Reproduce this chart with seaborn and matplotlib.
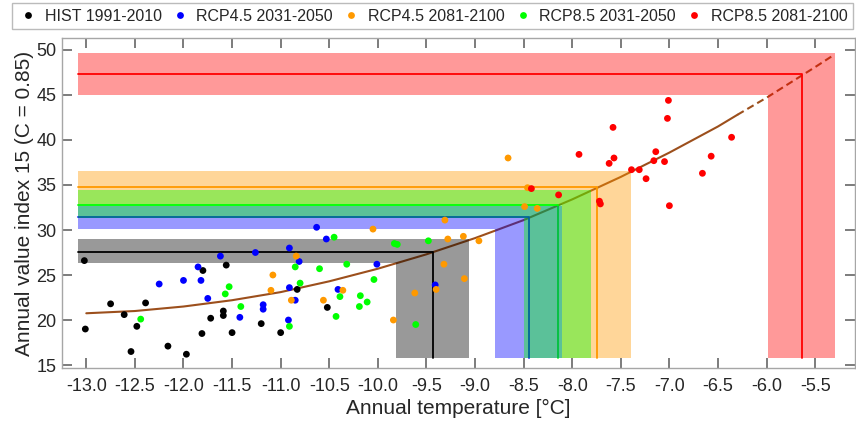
import pandas as pd
import seaborn as sns
import matplotlib.pyplot as plt

# scatter data: annual temperature [degC] and annual value index 15
hist_t = [-13.02, -13.01, -12.75, -12.61, -12.39, -12.48, -12.54, -12.16, -11.97, -11.80,
          -11.56, -11.72, -11.59, -11.59, -11.81, -11.50, -11.20, -10.83, -10.52, -11.00]
hist_v = [26.6, 19.0, 21.8, 20.6, 21.9, 19.3, 16.5, 17.1, 16.2, 25.5,
          26.1, 20.2, 21.0, 20.5, 18.5, 18.6, 19.6, 23.4, 21.4, 18.6]
rcp45a_t = [-12.25, -12.00, -11.82, -11.85, -11.75, -11.62, -11.26, -11.42, -11.18, -11.18,
            -10.63, -10.53, -10.91, -10.81, -10.91, -10.85, -10.92, -10.41, -10.01, -9.41]
rcp45a_v = [24.0, 24.4, 24.4, 25.9, 22.4, 27.1, 27.5, 20.3, 21.7, 21.2,
            30.3, 29.0, 28.0, 26.5, 23.6, 22.2, 20.0, 23.4, 26.2, 23.9]
rcp45b_t = [-10.84, -11.08, -11.10, -10.89, -10.56, -10.36, -10.05, -9.84, -9.31, -9.28,
            -9.32, -9.62, -9.40, -8.66, -8.46, -8.49, -8.36, -9.12, -8.96, -9.11]
rcp45b_v = [27.1, 25.0, 23.3, 22.2, 22.2, 23.3, 30.1, 20.0, 31.1, 29.0,
            26.2, 23.0, 23.4, 38.0, 34.7, 32.6, 32.4, 29.3, 28.8, 24.6]
rcp85a_t = [-12.44, -11.53, -11.57, -11.41, -10.45, -10.85, -10.80, -10.60, -10.32, -10.91,
            -10.39, -10.43, -10.18, -10.11, -10.19, -10.04, -9.83, -9.80, -9.48, -9.61]
rcp85a_v = [20.1, 23.7, 22.9, 21.5, 29.2, 25.9, 24.1, 25.7, 26.2, 19.3,
            22.6, 20.4, 22.7, 22.0, 21.5, 24.5, 28.5, 28.4, 28.8, 19.5]
rcp85b_t = [-7.01, -7.02, -7.58, -6.36, -7.14, -7.57, -7.62, -6.57, -7.16, -7.05,
            -7.39, -7.31, -7.24, -6.66, -7.00, -7.71, -7.72, -7.93, -8.42, -8.14]
rcp85b_v = [44.4, 42.4, 41.4, 40.3, 38.7, 38.0, 37.4, 38.2, 37.7, 37.6,
            36.7, 36.7, 35.7, 36.3, 32.7, 32.9, 33.2, 38.4, 34.6, 33.9]

# fitted curve (solid part) and its extrapolation (dashed)
fit_t = [-13.0, -12.5, -12.0, -11.5, -11.0, -10.5, -10.0, -9.5, -9.0, -8.5, -8.0, -7.5, -7.0, -6.5, -6.3]
fit_v = [20.75, 21.0, 21.5, 22.2, 23.1, 24.3, 25.7, 27.3, 29.1, 31.1, 33.4, 35.9, 38.6, 41.5, 42.8]
ext_t = [-6.3, -6.0, -5.5, -5.3]
ext_v = [42.8, 44.7, 48.1, 49.5]

# scenario means and ranges
names = ['HIST 1991-2010', 'RCP4.5 2031-2050', 'RCP4.5 2081-2100', 'RCP8.5 2031-2050', 'RCP8.5 2081-2100']
colors = ['#000000', '#0000ff', '#ff9900', '#00ff00', '#ff0000']
t_mean = [-9.43, -8.44, -7.74, -8.15, -5.64]
t_lo = [-9.81, -8.79, -8.10, -8.50, -5.99]
t_hi = [-9.06, -8.10, -7.39, -7.81, -5.30]
v_mean = [27.55, 31.45, 34.78, 32.74, 47.33]
v_lo = [26.33, 30.10, 32.90, 31.30, 45.00]
v_hi = [29.00, 32.67, 36.55, 34.45, 49.67]

sns.set_style('ticks')
plt.rcParams['font.family'] = ['Liberation Sans', 'DejaVu Sans']
plt.rcParams['xtick.direction'] = 'in'
plt.rcParams['ytick.direction'] = 'in'

fig = plt.figure(figsize=(8.56, 4.30), dpi=100)
ax = fig.add_axes([62/856, 1-368/430, 793/856, 330/430])

x0, y0 = -13.09, 15.78

# fit curve and scenario lines (under the shaded bands)
sns.lineplot(x=fit_t, y=fit_v, color='#9c4f1c', lw=1.5, ax=ax, zorder=1, sort=False)
ax.plot(ext_t, ext_v, color='#9c4f1c', lw=1.5, ls='--', dashes=(3.5, 2), zorder=1)
for i in range(5):
    ax.plot([x0, t_mean[i], t_mean[i]], [v_mean[i], v_mean[i], y0], color=colors[i], lw=1.3, zorder=1)

# L-shaped bands
for i in [4, 2, 0, 1, 3]:
    xs = [x0, t_lo[i], t_lo[i], t_hi[i], t_hi[i], x0]
    ys = [v_lo[i], v_lo[i], y0, y0, v_hi[i], v_hi[i]]
    ax.fill(xs, ys, color=colors[i], alpha=0.4, lw=0, zorder=2)

df = pd.DataFrame({
    't': hist_t + rcp45a_t + rcp45b_t + rcp85a_t + rcp85b_t,
    'v': hist_v + rcp45a_v + rcp45b_v + rcp85a_v + rcp85b_v,
    'period': [n for n in names for _ in range(20)],
})
sns.scatterplot(data=df, x='t', y='v', hue='period', palette=dict(zip(names, colors)),
                s=24, linewidth=0, ax=ax, zorder=3)

ax.set_xlim(-13.25, -5.09)
ax.set_ylim(14.67, 51.33)
ax.set_xticks([-13 + 0.5*k for k in range(16)])
ax.set_xticklabels([f'{-13 + 0.5*k:.1f}' for k in range(16)])
ax.set_yticks(range(15, 51, 5))
ax.tick_params(which='major', direction='in', length=7, width=1.2, color='#666666',
               labelcolor='#262626', labelsize=13, top=True, right=True, bottom=True, left=True)
ax.tick_params(axis='x', pad=7)
ax.tick_params(axis='y', pad=4)
for sp in ax.spines.values():
    sp.set_visible(True)
    sp.set_color('#a6a6a6')
    sp.set_linewidth(1.0)
ax.set_xlabel('Annual temperature [°C]', fontsize=15, color='#262626', labelpad=3)
ax.set_ylabel('Annual value index 15 (C = 0.85)', fontsize=15, color='#262626', labelpad=2)

handles, labels = ax.get_legend_handles_labels()
ax.get_legend().remove()
leg = fig.legend(handles, labels, ncol=5, loc='upper left', mode='expand',
                 bbox_to_anchor=(12/856, 1-3/430, 841/856, 0), borderaxespad=0,
                 fontsize=11.5, handlelength=1.3, handletextpad=0.4, columnspacing=0.8,
                 fancybox=False, edgecolor='#bbbbbb', framealpha=1, borderpad=0.35)
leg.get_frame().set_linewidth(1.0)

fig.savefig('out.png', dpi=100)
